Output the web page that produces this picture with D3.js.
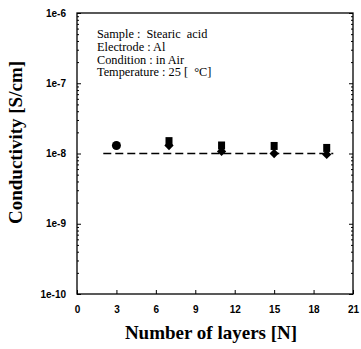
<!DOCTYPE html>
<html>
<head>
<meta charset="utf-8">
<script src="https://cdn.jsdelivr.net/npm/d3@7/dist/d3.min.js"></script>
<style>
  body { margin: 0; background: #fff; }
</style>
</head>
<body>
<div id="chart"></div>
<script>
// data
var circleLayers = [3];
var circleValues = [1.3e-8];
var squareLayers = [7, 11, 15, 19];
var squareValues = [1.5e-8, 1.3e-8, 1.28e-8, 1.2e-8];
var diamondLayers = [7, 11, 15, 19];
var diamondValues = [1.3e-8, 1.07e-8, 1.0e-8, 0.97e-8];
var fitLayers = [2, 19.5];
var fitValues = [1e-8, 1e-8];
var xTicks = [0, 3, 6, 9, 12, 15, 18, 21];
var yTicks = [1e-10, 1e-9, 1e-8, 1e-7, 1e-6];
var notes = ["Sample :  Stearic  acid", "Electrode : Al", "Condition : in Air", "Temperature : 25 [  \u00b0C]"];

var margin = {top: 13, right: 8, bottom: 55, left: 77},
    width = 361 - margin.left - margin.right,
    height = 349 - margin.top - margin.bottom;

var svg = d3.select("#chart").append("svg")
    .attr("width", 361)
    .attr("height", 349)
  .append("g")
    .attr("transform", "translate(" + margin.left + "," + margin.top + ")");

var x = d3.scaleLinear().domain([0, 21]).range([0, width]);
var y = d3.scaleLog().domain([1e-10, 1e-6]).range([height, 0]);

// frame
svg.append("rect")
  .attr("width", width)
  .attr("height", height)
  .attr("fill", "none")
  .attr("stroke", "#000")
  .attr("stroke-width", 1.3);

// left and right axes, minor ticks inward
var minor = y.ticks().filter(t => yTicks.indexOf(t) < 0);
svg.append("g")
  .call(d3.axisLeft(y).tickValues(minor).tickSize(-2).tickFormat(""))
  .call(g => g.select(".domain").remove());
svg.append("g")
  .attr("transform", "translate(" + width + ",0)")
  .call(d3.axisRight(y).tickValues(minor).tickSize(-2).tickFormat(""))
  .call(g => g.select(".domain").remove());
svg.append("g")
  .attr("transform", "translate(" + width + ",0)")
  .call(d3.axisRight(y).tickValues(yTicks).tickSize(-4).tickFormat(""))
  .call(g => g.select(".domain").remove());
svg.append("g")
  .attr("class", "yaxis")
  .call(d3.axisLeft(y).tickValues(yTicks).tickSizeInner(-4).tickSizeOuter(0).tickPadding(11)
    .tickFormat(d => "1e" + Math.round(Math.log10(d))))
  .call(g => g.select(".domain").remove())
  .selectAll("text")
    .attr("font-family", "Liberation Sans, Arial, sans-serif")
    .attr("font-weight", "bold")
    .attr("font-size", "10px")
    .attr("fill", "#000");

// bottom axis
svg.append("g")
  .attr("class", "xaxis")
  .attr("transform", "translate(0," + height + ")")
  .call(d3.axisBottom(x).tickValues(xTicks).tickSizeInner(-4).tickSizeOuter(0).tickPadding(12))
  .call(g => g.select(".domain").remove())
  .selectAll("text")
    .attr("font-family", "Liberation Sans, Arial, sans-serif")
    .attr("font-weight", "bold")
    .attr("font-size", "10px")
    .attr("fill", "#000");

svg.selectAll(".tick line").attr("stroke", "#000");

// fitted line
svg.append("path")
  .datum(fitLayers.map((d, i) => [d, fitValues[i]]))
  .attr("fill", "none")
  .attr("stroke", "#000")
  .attr("stroke-width", 1.6)
  .attr("stroke-dasharray", "8,4")
  .attr("d", d3.line().x(d => x(d[0])).y(d => y(d[1])));

// markers
svg.selectAll(".circ")
    .data(circleLayers)
  .enter().append("circle")
    .attr("cx", d => x(d))
    .attr("cy", (d, i) => y(circleValues[i]))
    .attr("r", 4.5)
    .attr("fill", "#000");

svg.selectAll(".dia")
    .data(diamondLayers)
  .enter().append("path")
    .attr("transform", (d, i) => "translate(" + x(d) + "," + y(diamondValues[i]) + ")")
    .attr("d", d3.symbol().type(d3.symbolDiamond2).size(55))
    .attr("fill", "#000");

svg.selectAll(".sq")
    .data(squareLayers)
  .enter().append("rect")
    .attr("x", d => x(d) - 3.5)
    .attr("y", (d, i) => y(squareValues[i]) - 4)
    .attr("width", 7)
    .attr("height", 8)
    .attr("fill", "#000");

// annotation
svg.append("g").selectAll("text")
    .data(notes)
  .enter().append("text")
    .attr("x", 20)
    .attr("y", (d, i) => 25 + i * 12.8)
    .attr("font-family", "Liberation Serif, Times New Roman, serif")
    .attr("font-size", "12.3px")
    .style("white-space", "pre")
    .text(d => d);

// axis titles
svg.append("text")
  .attr("x", width / 2 - 4)
  .attr("y", height + 45)
  .attr("text-anchor", "middle")
  .attr("font-family", "Liberation Serif, Times New Roman, serif")
  .attr("font-weight", "bold")
  .attr("font-size", "19px")
  .text("Number of layers [N]");

svg.append("text")
  .attr("transform", "translate(" + (-55) + "," + (height / 2 - 11) + ") rotate(-90)")
  .attr("text-anchor", "middle")
  .attr("font-family", "Liberation Serif, Times New Roman, serif")
  .attr("font-weight", "bold")
  .attr("font-size", "19px")
  .text("Conductivity [S/cm]");
</script>
</body>
</html>
